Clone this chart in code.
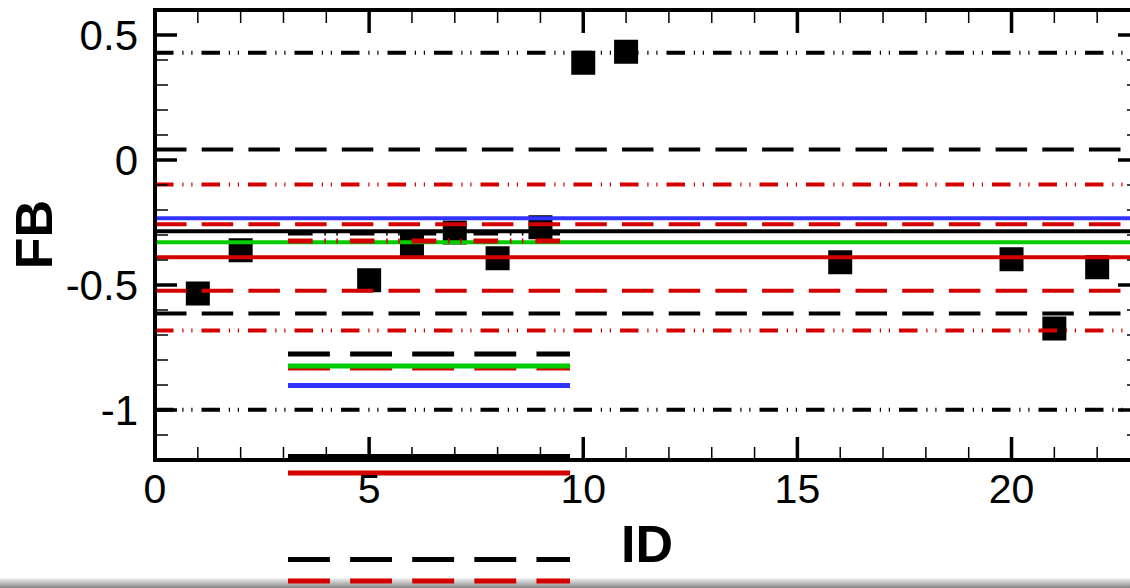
<!DOCTYPE html>
<html>
<head>
<meta charset="utf-8">
<script src="https://cdn.jsdelivr.net/npm/d3@7"></script>
<style>
  body { margin: 0; background: #fff; overflow: hidden; }
  svg { display: block; font-family: "Liberation Sans", Arial, sans-serif; }
</style>
</head>
<body>
<div id="chart"></div>
<script>
// Data
const ids = [1, 2, 5, 6, 7, 8, 9, 10, 11, 16, 20, 21, 22];
const fbValues = [-0.534, -0.361, -0.481, -0.337, -0.29, -0.393, -0.269, 0.389, 0.433, -0.409, -0.397, -0.674, -0.429];

// horizontal reference lines (value + which series they belong to)
const refValues = [0.429, 0.042, -0.098, -0.233, -0.257, -0.285, -0.329, -0.389, -0.523, -0.614, -0.682, -0.999];
const refSeries = ["black2", "black1", "red2", "blue", "red1", "black0", "green", "red0", "red1", "black1", "red2", "black2"];

// legend entries, in drawing order
const legendSeries = ["black2", "red2", "black1", "red1", "green", "blue", "black0", "red0", "black1", "red1"];

const xTicks = [0, 5, 10, 15, 20];
const yTicks = [0.5, 0, -0.5, -1];
const yTickLabels = ["0.5", "0", "-0.5", "-1"];

function createChart(containerId) {
  const width = 1130;
  const height = 588;

  const margin = { top: 10, bottom: 128, left: 155, right: -10 };

  const red = "#d40000";
  const styles = {
    black0: { color: "#000", dash: null },
    black1: { color: "#000", dash: [31.5, 15.2] },
    black2: { color: "#000", dash: [18.5, 8.8, 1.2, 7.8, 1.2, 9] },
    red0: { color: red, dash: null },
    red1: { color: red, dash: [31.5, 15.2] },
    red2: { color: red, dash: [18.5, 8.8, 1.2, 7.8, 1.2, 9] },
    green: { color: "#00cc00", dash: null },
    blue: { color: "#3333ff", dash: null },
  };

  const svg = d3
    .select(containerId)
    .append("svg")
    .attr("width", width)
    .attr("height", height);

  const xScale = d3
    .scaleLinear()
    .domain([0, 23])
    .range([margin.left, width - margin.right]);

  const yScale = d3
    .scaleLinear()
    .domain([-1.2, 0.6])
    .range([height - margin.bottom, margin.top]);

  // Points (lines are drawn over them)
  const sq = 24;
  svg
    .selectAll("rect.pt")
    .data(ids)
    .enter()
    .append("rect")
    .attr("class", "pt")
    .attr("x", (d) => xScale(d) - sq / 2)
    .attr("y", (d, i) => yScale(fbValues[i]) - sq / 2)
    .attr("width", sq)
    .attr("height", sq)
    .attr("fill", "black");

  // Reference lines
  svg
    .selectAll("line.ref")
    .data(refValues)
    .enter()
    .append("line")
    .attr("class", "ref")
    .attr("x1", xScale(0))
    .attr("x2", xScale(23))
    .attr("y1", (d) => yScale(d))
    .attr("y2", (d) => yScale(d))
    .attr("stroke", (d, i) => styles[refSeries[i]].color)
    .attr("stroke-width", 4)
    .attr("stroke-dasharray", (d, i) => {
      const dash = styles[refSeries[i]].dash;
      return dash ? dash.join(",") : null;
    });

  // Legend samples (text is not shown in the original)
  const legendY = [233, 241, 354, 368, 366, 385.5, 456.5, 473, 559.5, 581];
  const legendScale = 1.33;

  // window edge strip at the very bottom
  const grad = svg.append("defs").append("linearGradient")
    .attr("id", "edge").attr("x1", 0).attr("x2", 0).attr("y1", 0).attr("y2", 1);
  grad.append("stop").attr("offset", "0%").attr("stop-color", "#f4f4f4");
  grad.append("stop").attr("offset", "100%").attr("stop-color", "#858585");
  svg.append("rect")
    .attr("x", 0).attr("y", 578).attr("width", width).attr("height", 10)
    .attr("fill", "url(#edge)");

  svg
    .selectAll("line.leg")
    .data(legendSeries)
    .enter()
    .append("line")
    .attr("class", "leg")
    .attr("x1", 288)
    .attr("x2", 570)
    .attr("y1", (d, i) => legendY[i])
    .attr("y2", (d, i) => legendY[i])
    .attr("stroke", (d) => styles[d].color)
    .attr("stroke-width", 5)
    .attr("stroke-dasharray", (d) => {
      const dash = styles[d].dash;
      return dash ? dash.map((v) => v * legendScale).join(",") : null;
    });

  // Axis frame
  const x0 = xScale(0), x1 = xScale(23), y0 = yScale(-1.2), y1 = yScale(0.6);

  const frame = svg.append("g").attr("stroke", "black");
  frame.append("line").attr("x1", x0 - 2).attr("x2", x1).attr("y1", y1).attr("y2", y1).attr("stroke-width", 4);
  frame.append("line").attr("x1", x0 - 2).attr("x2", x1).attr("y1", y0).attr("y2", y0).attr("stroke-width", 4);
  frame.append("line").attr("x1", x0).attr("x2", x0).attr("y1", y1 - 2).attr("y2", y0 + 2).attr("stroke-width", 4);
  frame.append("line").attr("x1", x1).attr("x2", x1).attr("y1", y1 - 2).attr("y2", y0 + 2).attr("stroke-width", 4);

  // Ticks
  const xMinor = d3.range(0, 24).filter((v) => v % 5 !== 0);
  const yMinor = d3.range(-12, 7).map((v) => v / 10).filter((v) => Math.abs(v * 2 - Math.round(v * 2)) > 1e-6);

  const ticks = svg.append("g").attr("stroke", "black");
  xTicks.forEach((v) => {
    ticks.append("line").attr("x1", xScale(v)).attr("x2", xScale(v)).attr("y1", y0).attr("y2", y0 - 23).attr("stroke-width", 3.5);
    ticks.append("line").attr("x1", xScale(v)).attr("x2", xScale(v)).attr("y1", y1).attr("y2", y1 + 23).attr("stroke-width", 3.5);
  });
  xMinor.forEach((v) => {
    ticks.append("line").attr("x1", xScale(v)).attr("x2", xScale(v)).attr("y1", y0).attr("y2", y0 - 13).attr("stroke-width", 1.5);
    ticks.append("line").attr("x1", xScale(v)).attr("x2", xScale(v)).attr("y1", y1).attr("y2", y1 + 13).attr("stroke-width", 1.5);
  });
  yTicks.forEach((v) => {
    ticks.append("line").attr("x1", x0).attr("x2", x0 + 22).attr("y1", yScale(v)).attr("y2", yScale(v)).attr("stroke-width", 3.5);
    ticks.append("line").attr("x1", x1).attr("x2", x1 - 22).attr("y1", yScale(v)).attr("y2", yScale(v)).attr("stroke-width", 3.5);
  });
  yMinor.forEach((v) => {
    ticks.append("line").attr("x1", x0).attr("x2", x0 + 13).attr("y1", yScale(v)).attr("y2", yScale(v)).attr("stroke-width", 1.5);
    ticks.append("line").attr("x1", x1).attr("x2", x1 - 13).attr("y1", yScale(v)).attr("y2", yScale(v)).attr("stroke-width", 1.5);
  });

  // Tick labels
  svg
    .selectAll("text.xt")
    .data(xTicks)
    .enter()
    .append("text")
    .attr("class", "xt")
    .attr("x", (d) => xScale(d))
    .attr("y", 503)
    .attr("text-anchor", "middle")
    .attr("font-size", 41)
    .text((d) => d);

  svg
    .selectAll("text.yt")
    .data(yTicks)
    .enter()
    .append("text")
    .attr("class", "yt")
    .attr("x", 138)
    .attr("y", (d) => yScale(d) + 15)
    .attr("text-anchor", "end")
    .attr("font-size", 42)
    .text((d, i) => yTickLabels[i]);

  // Axis titles
  svg
    .append("text")
    .attr("x", 647)
    .attr("y", 562)
    .attr("text-anchor", "middle")
    .attr("font-size", 52)
    .attr("font-weight", "bold")
    .text("ID");

  svg
    .append("text")
    .attr("transform", "translate(51.5, 234.5) rotate(-90)")
    .attr("text-anchor", "middle")
    .attr("font-size", 52)
    .attr("font-weight", "bold")
    .text("FB");
}

createChart("#chart");
</script>
</body>
</html>
